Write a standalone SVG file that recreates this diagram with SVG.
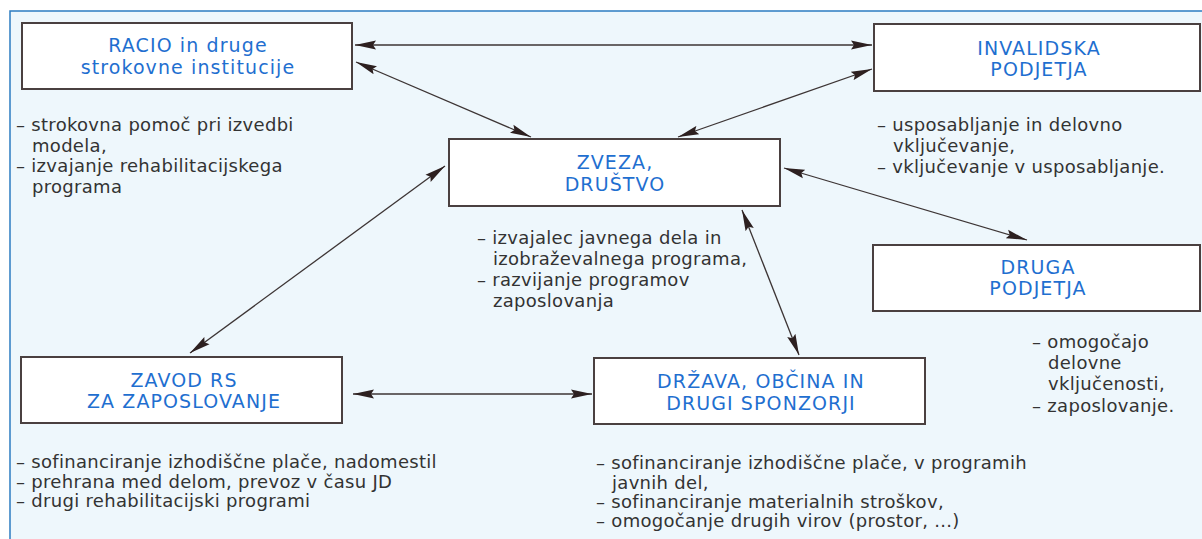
<svg xmlns="http://www.w3.org/2000/svg" width="1202" height="539" viewBox="0 0 1202 539">
<style>
.box{fill:#ffffff;stroke:#4a4040;stroke-width:2}
.title{font-family:"DejaVu Sans",sans-serif;font-size:19px;fill:#1f6fd0;text-anchor:middle;letter-spacing:1.1px}
.body{font-family:"DejaVu Sans",sans-serif;font-size:18px;fill:#333333;letter-spacing:0.3px}
.conn{stroke:#3d3535;stroke-width:1.3;fill:none;marker-start:url(#ah);marker-end:url(#ah)}
</style>
<defs>
<marker id="ah" markerUnits="userSpaceOnUse" markerWidth="22" markerHeight="10" refX="21" refY="5" orient="auto-start-reverse" viewBox="0 0 22 10">
<path d="M0,0.6 L21,5 L0,9.4 L3,5 z" fill="#2d2020"/>
</marker>
</defs>
<rect x="0" y="0" width="1202" height="539" fill="#ffffff"/>
<rect x="10" y="11" width="1192" height="528" fill="#eef7fc"/>
<path d="M10,539 L10,11 L1202,11" fill="none" stroke="#2d7cc1" stroke-width="1.5"/>

<g id="connectors">
<line class="conn" x1="355" y1="45" x2="872" y2="45"/>
<line class="conn" x1="356" y1="62" x2="531" y2="137"/>
<line class="conn" x1="872" y1="69" x2="678" y2="137"/>
<line class="conn" x1="784" y1="168" x2="1027" y2="240"/>
<line class="conn" x1="445" y1="166" x2="190" y2="353"/>
<line class="conn" x1="742" y1="210" x2="799" y2="355"/>
<line class="conn" x1="353" y1="394" x2="592" y2="394"/>
</g>

<g id="racio">
<rect class="box" x="22" y="23" width="330" height="66"/>
<text class="title" x="188" y="52">RACIO in druge</text>
<text class="title" x="188" y="74">strokovne institucije</text>
<text class="body"><tspan x="16" y="131">– strokovna pomoč pri izvedbi</tspan><tspan x="32" y="152">modela,</tspan><tspan x="16" y="172">– izvajanje rehabilitacijskega</tspan><tspan x="32" y="193">programa</tspan></text>
</g>

<g id="invalidska">
<rect class="box" x="874" y="24" width="326" height="67"/>
<text class="title" x="1039" y="55">INVALIDSKA</text>
<text class="title" x="1039" y="76">PODJETJA</text>
<text class="body"><tspan x="877" y="131">– usposabljanje in delovno</tspan><tspan x="893" y="152">vključevanje,</tspan><tspan x="877" y="173">– vključevanje v usposabljanje.</tspan></text>
</g>

<g id="zveza">
<rect class="box" x="449" y="139" width="331" height="67"/>
<text class="title" x="615" y="169">ZVEZA,</text>
<text class="title" x="615" y="191">DRUŠTVO</text>
<text class="body"><tspan x="477" y="244">– izvajalec javnega dela in</tspan><tspan x="493" y="265">izobraževalnega programa,</tspan><tspan x="477" y="286">– razvijanje programov</tspan><tspan x="493" y="307">zaposlovanja</tspan></text>
</g>

<g id="druga">
<rect class="box" x="873" y="245" width="327" height="66"/>
<text class="title" x="1038" y="274">DRUGA</text>
<text class="title" x="1038" y="295">PODJETJA</text>
<text class="body"><tspan x="1032" y="348">– omogočajo</tspan><tspan x="1048" y="369">delovne</tspan><tspan x="1048" y="390">vključenosti,</tspan><tspan x="1032" y="412">– zaposlovanje.</tspan></text>
</g>

<g id="zavod">
<rect class="box" x="21" y="357" width="321" height="66"/>
<text class="title" x="184" y="387">ZAVOD RS</text>
<text class="title" x="184" y="408">ZA ZAPOSLOVANJE</text>
<text class="body"><tspan x="16" y="468">– sofinanciranje izhodiščne plače, nadomestil</tspan><tspan x="16" y="488">– prehrana med delom, prevoz v času JD</tspan><tspan x="16" y="507">– drugi rehabilitacijski programi</tspan></text>
</g>

<g id="drzava">
<rect class="box" x="594" y="358" width="331" height="66"/>
<text class="title" x="761" y="388">DRŽAVA, OBČINA IN</text>
<text class="title" x="761" y="410">DRUGI SPONZORJI</text>
<text class="body"><tspan x="596" y="469">– sofinanciranje izhodiščne plače, v programih</tspan><tspan x="612" y="489">javnih del,</tspan><tspan x="596" y="508">– sofinanciranje materialnih stroškov,</tspan><tspan x="596" y="527">– omogočanje drugih virov (prostor, ...)</tspan></text>
</g>
</svg>
